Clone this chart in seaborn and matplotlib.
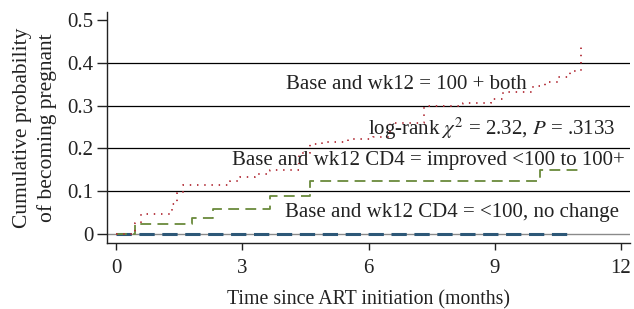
import numpy as np
import pandas as pd
import matplotlib
matplotlib.use("Agg")
import matplotlib.pyplot as plt
import seaborn as sns

# step points of the cumulative curves (months, probability)
t_both = [0, 0.45, 0.6, 1.32, 1.45, 1.6, 2.7, 2.95, 3.3, 3.66, 4.35, 4.6, 4.9,
          5.5, 6.1, 6.5, 7.33, 8.24, 8.9, 9.2, 9.9, 10.2, 10.5, 10.8, 11.04]
p_both = [0, 0.026, 0.046, 0.07, 0.095, 0.114, 0.124, 0.133, 0.14, 0.15, 0.19,
          0.21, 0.216, 0.222, 0.227, 0.26, 0.30, 0.307, 0.316, 0.331, 0.345,
          0.355, 0.366, 0.381, 0.436]
t_impr = [0, 0.45, 1.8, 2.3, 3.66, 4.6, 10.07, 11.02]
p_impr = [0, 0.0225, 0.038, 0.058, 0.088, 0.124, 0.15, 0.15]
t_none = [0, 10.85]
p_none = [0, 0]

xticks = [0, 3, 6, 9, 12]
yticks = [0, 0.1, 0.2, 0.3, 0.4, 0.5]
ylabels = ["0", "0.1", "0.2", "0.3", "0.4", "0.5"]

sns.set_style("ticks")
plt.rcParams["font.family"] = ["Liberation Serif", "DejaVu Serif"]
plt.rcParams["mathtext.fontset"] = "stix"

fig = plt.figure(figsize=(6.34, 3.09), dpi=100)
ax = fig.add_axes([0.169, 0.2125, 0.825, 0.749])

# reference lines
for y in [0.1, 0.2, 0.3, 0.4]:
    ax.axhline(y, color="black", lw=0.9, zorder=1)
ax.axhline(0, color="#8a8a8a", lw=1.0, zorder=1)

d_none = pd.DataFrame({"t": t_none, "p": p_none})
d_impr = pd.DataFrame({"t": t_impr, "p": p_impr})
d_both = pd.DataFrame({"t": t_both, "p": p_both})

sns.lineplot(data=d_none, x="t", y="p", ax=ax, color="#2d5878", lw=2.2,
             estimator=None, sort=False, zorder=3,
             linestyle=(0, (5, 2.5)))
sns.lineplot(data=d_impr, x="t", y="p", ax=ax, color="#6a8a3c", lw=1.3,
             estimator=None, sort=False, drawstyle="steps-post", zorder=4,
             linestyle=(0, (6, 3.5)))
sns.lineplot(data=d_both, x="t", y="p", ax=ax, color="#b3303a", lw=1.3,
             estimator=None, sort=False, drawstyle="steps-post", zorder=5,
             linestyle=(0, (0.8, 3.2)))

fs = 15
tc = "#222222"
ax.text(6.9, 0.349, "Base and wk12 = 100 + both", ha="center", va="center",
        fontsize=fs, color=tc, zorder=6)
ax.text(8.92, 0.247, r"log-rank $\chi^2$ = 2.32, $P$ = .3133", ha="center",
        va="center", fontsize=fs, color=tc, zorder=6)
ax.text(7.42, 0.172, "Base and wk12 CD4 = improved <100 to 100+", ha="center",
        va="center", fontsize=fs, color=tc, zorder=6)
ax.text(7.99, 0.051, "Base and wk12 CD4 = <100, no change", ha="center",
        va="center", fontsize=fs, color=tc, zorder=6)

ax.set_xlim(-0.214, 12.22)
ax.set_ylim(-0.0217, 0.519)
ax.set_xticks(xticks)
ax.set_xticklabels([str(x) for x in xticks])
ax.set_yticks(yticks)
ax.set_yticklabels(ylabels)
ax.tick_params(labelsize=fs, width=1, colors=tc, labelcolor=tc)
ax.tick_params(axis="y", length=7, pad=3)
ax.tick_params(axis="x", length=5, pad=6)
ax.set_xlabel("Time since ART initiation (months)", fontsize=14.3, color=tc,
              labelpad=9)
ax.set_ylabel("Cumulative probability\nof becoming pregnant", fontsize=15.5,
              color=tc, linespacing=1.4, labelpad=7)
for s in ["top", "right"]:
    ax.spines[s].set_visible(False)
for s in ["left", "bottom"]:
    ax.spines[s].set_color(tc)
    ax.spines[s].set_linewidth(1.0)

fig.savefig("out.png", dpi=100)
